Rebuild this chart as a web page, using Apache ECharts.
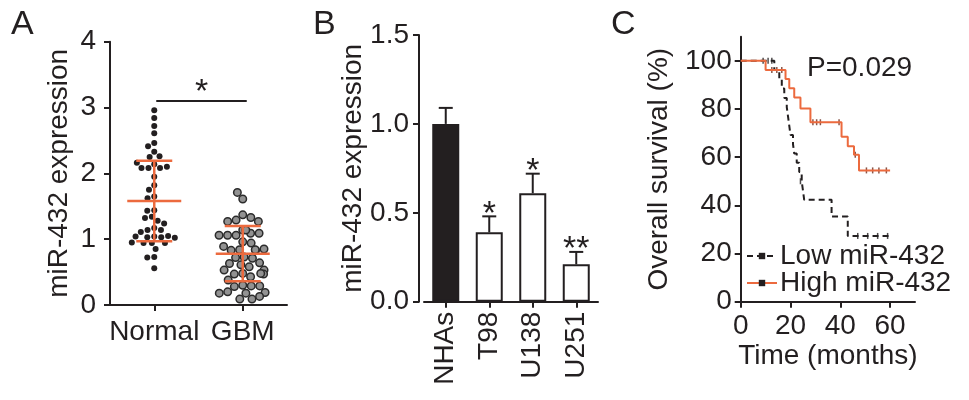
<!DOCTYPE html>
<html>
<head>
<meta charset="utf-8">
<script src="https://cdn.jsdelivr.net/npm/echarts@6/dist/echarts.min.js"></script>
<style>
  html, body { margin: 0; padding: 0; background: #fff; }
  #main { width: 969px; height: 400px; }
</style>
</head>
<body>
<div id="main"></div>
<script>
// panel A: miR-432 in tissue
var groups = ['Normal', 'GBM']
var normalVals = [2.96, 2.84, 2.72, 2.61, 2.46, 2.41, 2.33, 2.25, 2.26, 2.14, 2.08, 2.08, 2.08, 2.10, 2.16,
  1.95, 1.82, 1.75, 1.65, 1.62, 1.44, 1.43, 1.34, 1.28, 1.32, 1.24, 1.17, 1.14, 1.14, 1.11, 1.04, 1.03,
  1.03, 1.05, 1.04, 1.02, 0.94, 0.94, 0.95, 0.94, 0.85, 0.73, 0.72, 0.56]
var gbmVals = [1.61, 1.71, 1.37, 1.29, 1.33, 1.27, 1.27, 1.14, 1.06, 1.09, 1.06, 1.09, 1.06, 1.14, 0.96,
  0.94, 0.84, 0.83, 0.83, 0.89, 0.85, 0.84, 0.73, 0.72, 0.71, 0.63, 0.64, 0.61, 0.58, 0.53, 0.53, 0.48,
  0.47, 0.43, 0.47, 0.48, 0.38, 0.30, 0.28, 0.29, 0.29, 0.20, 0.18, 0.19, 0.18, 0.09, 0.09, 0.13]
var groupMean = [1.58, 0.78]
var groupSD = [0.61, 0.42]
var sigAY = 3.1

// panel B: cell lines
var cellLines = ['NHAs', 'T98', 'U138', 'U251']
var cellExpr = [1.0, 0.39, 0.61, 0.21]
var cellErr = [0.09, 0.09, 0.11, 0.07]
var cellSig = ['', '*', '*', '**']

// panel C: Kaplan-Meier, [months, survival %]
var lowSteps = [[0, 100], [13.5, 96.2], [15.5, 92.3], [16.5, 88.5], [17.5, 84.6], [18.5, 80.8], [19, 76.9],
  [19.5, 73.1], [20, 69.2], [21, 65.4], [21.5, 61.5], [22.5, 57.7], [23.5, 53.8], [24.5, 50], [25, 46.2],
  [25.5, 42.3], [36.5, 35.4], [43, 27.3], [60, 27.3]]
var lowCensor = [[9, 100], [11, 100], [12.5, 100], [24, 50], [47, 27.3], [51, 27.3], [55, 27.3], [59, 27.3]]
var highSteps = [[0, 100], [10, 96.2], [18, 92.4], [19.5, 88.6], [21.5, 84.8], [24, 80.2], [28, 74.5],
  [40.5, 68.5], [43, 64.5], [45.5, 61], [47.5, 54.5], [60, 54.5]]
var highCensor = [[12.5, 96.2], [14.5, 96.2], [16.5, 96.2], [29, 74.5], [30.5, 74.5], [32, 74.5], [39.5, 74.5],
  [46, 61], [50.5, 54.5], [53, 54.5], [55.5, 54.5], [58.5, 54.5]]
var pText = 'P=0.029'

var INK = '#231f20'
var ORANGE = '#ec6a3e'
var FONT = "'Liberation Sans', Arial, sans-serif"
var FS = 28

function axisBase () {
  return {
    axisLine: { show: true, lineStyle: { color: INK, width: 2 } },
    axisTick: { show: true, length: 6, lineStyle: { color: INK, width: 2 } },
    axisLabel: { color: INK, fontSize: FS, fontFamily: FONT },
    splitLine: { show: false },
    nameTextStyle: { color: INK, fontSize: FS, fontFamily: FONT },
    nameLocation: 'middle',
    nameMoveOverlap: false
  }
}
function merge (a, b) {
  for (var k in b) a[k] = b[k]
  return a
}

function meanSdItem (params, api) {
  var x = api.value(0), m = api.value(1), s = api.value(2)
  var c = api.coord([x, m]), hi = api.coord([x, m + s]), lo = api.coord([x, m - s])
  var st = { stroke: ORANGE, lineWidth: 2.5 }
  return { type: 'group', children: [
    { type: 'line', shape: { x1: c[0] - 27, y1: c[1], x2: c[0] + 27, y2: c[1] }, style: st },
    { type: 'line', shape: { x1: c[0], y1: hi[1], x2: c[0], y2: lo[1] }, style: st },
    { type: 'line', shape: { x1: c[0] - 18, y1: hi[1], x2: c[0] + 18, y2: hi[1] }, style: st },
    { type: 'line', shape: { x1: c[0] - 18, y1: lo[1], x2: c[0] + 18, y2: lo[1] }, style: st }
  ] }
}
function sigAItem (params, api) {
  var a = api.coord([0, sigAY]), b = api.coord([1, sigAY])
  return { type: 'group', children: [
    { type: 'line', shape: { x1: a[0] + 2, y1: a[1], x2: b[0] + 4, y2: b[1] }, style: { stroke: INK, lineWidth: 2 } },
    { type: 'text', style: { text: '*', x: (a[0] + b[0]) / 2 + 3, y: a[1] - 8, align: 'center', verticalAlign: 'middle',
      fontSize: 34, fontFamily: FONT, fill: INK } }
  ] }
}
function errItem (params, api) {
  var x = api.value(0), v = api.value(1), e = api.value(2)
  var top = api.coord([x, v]), hi = api.coord([x, v + e])
  var st = { stroke: INK, lineWidth: 2 }
  return { type: 'group', children: [
    { type: 'line', shape: { x1: top[0], y1: top[1], x2: top[0], y2: hi[1] }, style: st },
    { type: 'line', shape: { x1: top[0] - 7, y1: hi[1], x2: top[0] + 7, y2: hi[1] }, style: st },
    { type: 'text', style: { text: cellSig[params.dataIndex], x: top[0], y: hi[1] - 2, align: 'center',
      verticalAlign: 'middle', fontSize: 34, fontFamily: FONT, fill: INK } }
  ] }
}

// thin vertical tick used for censored cases
var tickSym = 'path://M0,0h2v10h-2z'

var option = {
  animation: false,
  backgroundColor: '#fff',
  textStyle: { fontFamily: FONT, color: INK },
  title: [
    { text: 'A', left: 11, top: 8, padding: 0, textStyle: { fontSize: 34, fontWeight: 'normal', color: INK, fontFamily: FONT } },
    { text: 'B', left: 313, top: 8, padding: 0, textStyle: { fontSize: 34, fontWeight: 'normal', color: INK, fontFamily: FONT } },
    { text: 'C', left: 611, top: 8, padding: 0, textStyle: { fontSize: 34, fontWeight: 'normal', color: INK, fontFamily: FONT } },
    { text: pText, left: 807, top: 54, padding: 0, textStyle: { fontSize: FS, fontWeight: 'normal', color: INK, fontFamily: FONT } }
  ],
  legend: {
    data: ['Low miR-432', 'High miR-432'],
    orient: 'vertical',
    left: 746,
    top: 242,
    padding: 0,
    itemGap: -1,
    itemWidth: 30,
    itemHeight: 8,
    symbolKeepAspect: true,
    selectedMode: false,
    textStyle: { fontSize: FS, color: INK, fontFamily: FONT, padding: [0, 0, 0, -2] }
  },
  grid: [
    { left: 110, top: 41.7, width: 177, height: 263.3, outerBoundsMode: 'none' },
    { left: 424, top: 35, width: 174, height: 266.7, outerBoundsMode: 'none' },
    { left: 740.7, top: 36.7, width: 174.3, height: 265, outerBoundsMode: 'none' }
  ],
  xAxis: [
    merge(axisBase(), {
      type: 'category', gridIndex: 0, data: groups,
      jitter: 48, jitterOverlap: false, jitterMargin: 1,
      axisTick: { show: true, alignWithLabel: true, length: 6, lineStyle: { color: INK, width: 2 } },
      axisLabel: { color: INK, fontSize: FS, fontFamily: FONT, margin: 13, interval: 0 }
    }),
    merge(axisBase(), {
      type: 'category', gridIndex: 1, data: cellLines,
      axisTick: { show: true, alignWithLabel: true, length: 6, lineStyle: { color: INK, width: 2 } },
      axisLabel: { color: INK, fontSize: FS, fontFamily: FONT, margin: 10, rotate: 90, interval: 0 }
    }),
    merge(axisBase(), {
      type: 'value', gridIndex: 2, min: 0, max: 70, interval: 20,
      name: 'Time (months)', nameGap: 41,
      axisTick: { show: true, length: 6, customValues: [0, 20, 40, 60], lineStyle: { color: INK, width: 2 } },
      axisLabel: { color: INK, fontSize: FS, fontFamily: FONT, margin: 11, customValues: [0, 20, 40, 60] }
    })
  ],
  yAxis: [
    merge(axisBase(), {
      type: 'value', gridIndex: 0, min: 0, max: 4, interval: 1,
      name: 'miR-432 expression', nameGap: 37,
      axisLabel: { color: INK, fontSize: FS, fontFamily: FONT, margin: 14 }
    }),
    merge(axisBase(), {
      type: 'value', gridIndex: 1, min: 0, max: 1.5, interval: 0.5, offset: 5,
      name: 'miR-432 expression', nameGap: 52,
      axisLabel: { color: INK, fontSize: FS, fontFamily: FONT, margin: 10, formatter: function (v) { return v.toFixed(1) } }
    }),
    merge(axisBase(), {
      type: 'value', gridIndex: 2, min: 0, max: 110,
      name: 'Overall survival (%)', nameGap: 67,
      axisTick: { show: true, length: 6, customValues: [0, 20, 40, 60, 80, 100], lineStyle: { color: INK, width: 2 } },
      axisLabel: { color: INK, fontSize: FS, fontFamily: FONT, margin: 9, customValues: [0, 20, 40, 60, 80, 100] }
    })
  ],
  series: [
    {
      type: 'scatter', xAxisIndex: 0, yAxisIndex: 0, symbolSize: 6,
      itemStyle: { color: INK, opacity: 1 },
      data: normalVals.map(function (v) { return [0, v] })
    },
    {
      type: 'scatter', xAxisIndex: 0, yAxisIndex: 0, symbolSize: 7.5,
      itemStyle: { color: '#929292', borderColor: '#2b2b2b', borderWidth: 1.5, opacity: 1 },
      data: gbmVals.map(function (v) { return [1, v] })
    },
    {
      type: 'custom', xAxisIndex: 0, yAxisIndex: 0, z: 5, renderItem: meanSdItem,
      data: groupMean.map(function (m, i) { return [i, m, groupSD[i]] })
    },
    {
      type: 'custom', xAxisIndex: 0, yAxisIndex: 0, z: 5, renderItem: sigAItem,
      data: [[0, sigAY]]
    },
    {
      type: 'bar', xAxisIndex: 1, yAxisIndex: 1, barWidth: 27,
      itemStyle: {
        color: function (p) { return p.dataIndex === 0 ? INK : '#fff' },
        borderColor: INK, borderWidth: 2
      },
      data: cellExpr
    },
    {
      type: 'custom', xAxisIndex: 1, yAxisIndex: 1, z: 1, renderItem: errItem,
      data: cellExpr.map(function (v, i) { return [i, v, cellErr[i]] })
    },
    {
      name: 'Low miR-432', type: 'line', step: 'end', xAxisIndex: 2, yAxisIndex: 2,
      symbol: tickSym, symbolSize: [2, 8], symbolKeepAspect: true, showSymbol: false,
      itemStyle: { color: INK },
      lineStyle: { color: INK, width: 2, type: [6, 4] },
      data: lowSteps
    },
    {
      name: 'High miR-432', type: 'line', step: 'end', xAxisIndex: 2, yAxisIndex: 2,
      symbol: tickSym, symbolSize: [2, 8], symbolKeepAspect: true, showSymbol: false,
      itemStyle: { color: INK },
      lineStyle: { color: ORANGE, width: 2 },
      data: highSteps
    },
    {
      type: 'scatter', xAxisIndex: 2, yAxisIndex: 2, symbol: tickSym, symbolSize: [1.5, 6],
      itemStyle: { color: INK }, data: lowCensor
    },
    {
      type: 'scatter', xAxisIndex: 2, yAxisIndex: 2, symbol: tickSym, symbolSize: [1.5, 6],
      itemStyle: { color: '#6b2a1a' }, data: highCensor
    }
  ]
}

var chart = echarts.init(document.getElementById('main'), null, { renderer: 'canvas' })
chart.setOption(option)
</script>
</body>
</html>
